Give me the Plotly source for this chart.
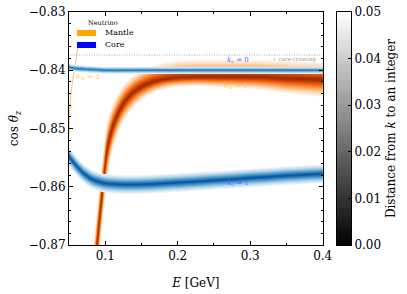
import plotly.graph_objects as go
from plotly.colors import sample_colorscale

# ---------------- data ----------------
# Mantle k_m = 1 resonance band (centre line, half-width above and below)
mantle_E = [0.0830, 0.0855, 0.0888, 0.0957, 0.0988, 0.1018, 0.1064, 0.1133, 0.1247,
            0.1362, 0.1477, 0.1637, 0.1844, 0.2210, 0.2600, 0.3130, 0.3500, 0.4000]
mantle_cos = [-0.8790, -0.8745, -0.8700, -0.8612, -0.8578, -0.8544, -0.8515, -0.8487, -0.8458,
              -0.8441, -0.8430, -0.8421, -0.8415, -0.8412, -0.8412, -0.8412, -0.8414, -0.8416]
mantle_hw_up = [0.0062, 0.0060, 0.0058, 0.0052, 0.0050, 0.0047, 0.0042, 0.0036, 0.0031,
                0.0029, 0.0028, 0.0028, 0.0028, 0.0029, 0.0029, 0.0029, 0.0029, 0.0029]
mantle_hw_lo = [0.0062, 0.0060, 0.0058, 0.0052, 0.0050, 0.0047, 0.0042, 0.0036, 0.0031,
                0.0027, 0.0024, 0.0019, 0.0016, 0.0015, 0.0017, 0.0021, 0.0025, 0.0029]

# Mantle k_m = 2 (thin faint line at the left edge)
m2_E = [0.0625, 0.0606, 0.0575, 0.0537, 0.0515, 0.0504, 0.0498]
m2_cos = [-0.8362, -0.8373, -0.8400, -0.8429, -0.8460, -0.8487, -0.8520]

# Core k_c = 1 band
core1_E = [0.050, 0.060, 0.070, 0.080, 0.090, 0.100, 0.120, 0.150, 0.200, 0.250, 0.300, 0.350, 0.400]
core1_cos = [-0.8548, -0.8564, -0.8577, -0.8586, -0.8591, -0.8594, -0.8596, -0.8596, -0.8593,
             -0.8589, -0.8585, -0.8581, -0.8578]
core1_hw = 0.0016

# Core k_c = 0 band
core0_E = [0.050, 0.060, 0.070, 0.085, 0.100, 0.150, 0.250, 0.350, 0.400]
core0_cos = [-0.8395, -0.8397, -0.8398, -0.8399, -0.8400, -0.8400, -0.8400, -0.8400, -0.8400]
core0_hw = 0.0006

core_crossing_cos = -0.8374
x_range = [0.05, 0.40]
y_range = [-0.87, -0.83]
cbar_ticks = [0.00, 0.01, 0.02, 0.03, 0.04, 0.05]

FONT = "DejaVu Serif"
N_LAYERS = 16

fig = go.Figure()


def add_band(E, c, hw_up, hw_lo, scale, tmax=1.0):
    up = hw_up if isinstance(hw_up, list) else [hw_up] * len(c)
    dn = hw_lo if isinstance(hw_lo, list) else [hw_lo] * len(c)
    for k in range(N_LAYERS):
        f = 1 - k / N_LAYERS
        col = sample_colorscale(scale, [tmax * (k + 0.5) / N_LAYERS])[0]
        lo = [ci - f * h for ci, h in zip(c, dn)]
        hi = [ci + f * h for ci, h in zip(c, up)]
        fig.add_trace(go.Scatter(x=E, y=lo, mode="lines", line=dict(width=0, shape="spline"),
                                 showlegend=False, hoverinfo="skip"))
        fig.add_trace(go.Scatter(x=E, y=hi, mode="lines", line=dict(width=0, shape="spline"),
                                 fill="tonexty", fillcolor=col, showlegend=False, hoverinfo="skip"))


add_band(mantle_E, mantle_cos, mantle_hw_up, mantle_hw_lo, "Oranges", 0.95)
fig.add_trace(go.Scatter(x=m2_E, y=m2_cos, mode="lines",
                         line=dict(color="#fdc794", width=1.2, shape="spline"),
                         showlegend=False, hoverinfo="skip"))
add_band(core1_E, core1_cos, core1_hw, core1_hw, "Blues", 0.88)
add_band(core0_E, core0_cos, core0_hw, core0_hw, "Blues", 0.75)

# core-crossing threshold
fig.add_trace(go.Scatter(x=x_range, y=[core_crossing_cos] * 2, mode="lines",
                         line=dict(color="#a0a0a0", width=0.8, dash="1px,1.5px"),
                         showlegend=False, hoverinfo="skip"))

# grey colour bar drawn on its own small axis pair
fig.add_trace(go.Heatmap(
    x=[0, 1], y=[cbar_ticks[0], cbar_ticks[-1]],
    z=[[cbar_ticks[0], cbar_ticks[0]], [cbar_ticks[-1], cbar_ticks[-1]]],
    zmin=cbar_ticks[0], zmax=cbar_ticks[-1], zsmooth="best",
    colorscale=[[0, "#000000"], [1, "#ffffff"]], showscale=False,
    xaxis="x2", yaxis="y2", hoverinfo="skip"))

# text labels
lab = dict(showarrow=False, xref="x", yref="y", xanchor="center", yanchor="middle")
fig.add_annotation(x=0.2838, y=-0.8383, text="<i>k</i><sub>c</sub> = 0",
                   font=dict(family=FONT, size=7, color="#6666ff"), **lab)
fig.add_annotation(x=0.2810, y=-0.8427, text="<i>k</i><sub>m</sub> = 1",
                   font=dict(family=FONT, size=7, color="#ffc966"), **lab)
fig.add_annotation(x=0.0761, y=-0.8412, text="<i>k</i><sub>m</sub> = 2",
                   font=dict(family=FONT, size=7, color="#ffc966"), **lab)
fig.add_annotation(x=0.2838, y=-0.8593, text="<i>k</i><sub>c</sub> = 1",
                   font=dict(family=FONT, size=7, color="#6666ff"), **lab)
fig.add_annotation(x=0.394, y=-0.8381, text="↓ core-crossing", xanchor="right", yanchor="middle",
                   showarrow=False, xref="x", yref="y",
                   font=dict(family=FONT, size=5.5, color="#9a9a9a"))

# legend (drawn as swatches + text, positioned in the main axes' domain)
dom = dict(xref="x domain", yref="y domain", showarrow=False, yanchor="middle")
fig.add_annotation(x=0.134, y=0.953, text="Neutrino", xanchor="center",
                   font=dict(family=FONT, size=6.5, color="black"), **dom)
fig.add_shape(type="rect", xref="x domain", yref="y domain", x0=0.0316, x1=0.1067, y0=0.897, y1=0.9227,
              fillcolor="#ffa500", line=dict(width=0))
fig.add_shape(type="rect", xref="x domain", yref="y domain", x0=0.0316, x1=0.1067, y0=0.8455, y1=0.8712,
              fillcolor="#0000ff", line=dict(width=0))
fig.add_annotation(x=0.134, y=0.9099, text="Mantle", xanchor="left",
                   font=dict(family=FONT, size=8, color="black"), **dom)
fig.add_annotation(x=0.134, y=0.8584, text="Core", xanchor="left",
                   font=dict(family=FONT, size=8, color="black"), **dom)

axis_common = dict(showline=True, linecolor="black", linewidth=1, mirror="allticks",
                   ticks="inside", ticklen=4, tickwidth=0.8, tickcolor="black",
                   showgrid=False, zeroline=False,
                   tickfont=dict(family=FONT, size=12, color="black"))

# paper spans x = 69 .. 351 px (main plot 69..322.7, colour bar 337..351)
fig.update_layout(
    xaxis=dict(domain=[0, 0.8996], range=x_range, dtick=0.1, tick0=0, automargin=False,
               minor=dict(dtick=0.05, tick0=0, ticks="inside", ticklen=2, tickcolor="black", showgrid=False),
               title=dict(text="<i>E</i> [GeV]", font=dict(family=FONT, size=12, color="black"), standoff=16),
               **axis_common),
    yaxis=dict(range=y_range, dtick=0.01, tick0=0, tickformat=".2f", automargin="left",
               minor=dict(dtick=0.002, tick0=0, ticks="inside", ticklen=2, tickcolor="black", showgrid=False),
               title=dict(text="cos <i>θ</i><sub><i>z</i></sub>", font=dict(family=FONT, size=12, color="black"),
                          standoff=7),
               **axis_common),
    xaxis2=dict(domain=[0.9504, 1.0], range=[0, 1], anchor="y2", showticklabels=False, ticks="",
                showline=True, mirror=True, linecolor="black", linewidth=1, showgrid=False, zeroline=False),
    yaxis2=dict(domain=[0, 1], range=[cbar_ticks[0], cbar_ticks[-1]], anchor="x2", side="right",
                tickvals=cbar_ticks, tickformat=".2f", ticks="inside", ticklen=3, tickwidth=0.8,
                tickcolor="black", showline=True, mirror=True, linecolor="black", linewidth=1,
                showgrid=False, zeroline=False, automargin=False,
                tickfont=dict(family=FONT, size=12, color="black"),
                title=dict(text="Distance from <i>k</i> to an integer",
                           font=dict(family=FONT, size=12, color="black"), standoff=6)),
    width=407, height=294, margin=dict(l=69, r=56, t=12, b=49),
    plot_bgcolor="white", paper_bgcolor="white", showlegend=False,
    font=dict(family=FONT, color="black"))

fig.write_html("out.html", config={"displayModeBar": False},
               post_script="document.body.style.margin='0px';document.body.style.overflow='hidden';")
